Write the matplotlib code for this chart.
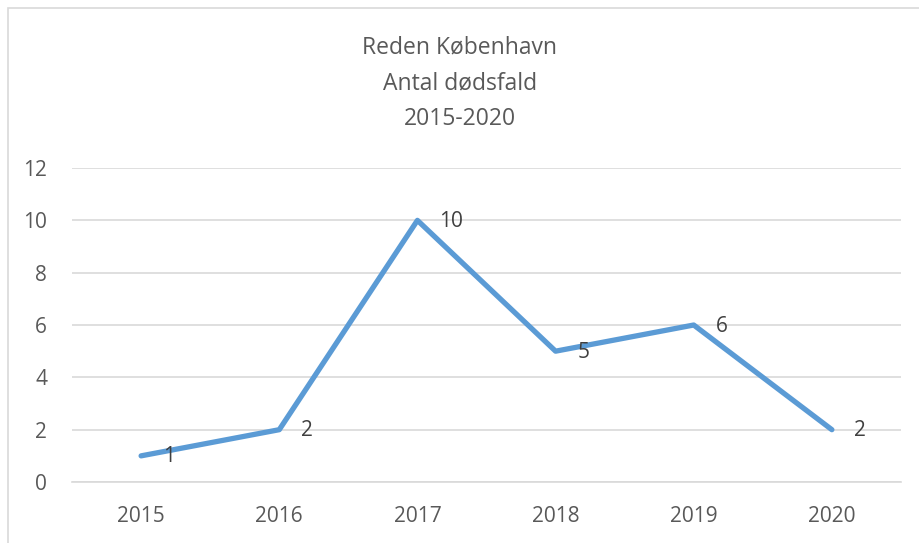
import matplotlib.pyplot as plt
from matplotlib.patches import Rectangle

years = ["2015", "2016", "2017", "2018", "2019", "2020"]
deaths = [1, 2, 10, 5, 6, 2]
title_lines = ["Reden København", "Antal dødsfald", "2015-2020"]

plt.rcParams['font.family'] = ['Open Sans', 'DejaVu Sans']

fig = plt.figure(figsize=(9.2, 5.43), dpi=100)
ax = fig.add_axes([0.0783, 0.1123, 0.9010, 0.5783])

x = list(range(len(years)))
ax.plot(x, deaths, color='#5b9bd5', linewidth=3.8, solid_capstyle='round',
        solid_joinstyle='round', zorder=3)

for xi, v in zip(x, deaths):
    ax.annotate(str(v), (xi, v), xytext=(22, -1), textcoords='offset pixels',
                ha='left', va='center', fontsize=15, color='#404040', zorder=4)

ax.set_xlim(-0.5, len(years) - 0.5)
ax.set_ylim(0, 12)
ax.set_yticks(range(0, 13, 2))
ax.set_xticks(x)
ax.set_xticklabels(years)
ax.tick_params(length=0, labelsize=15, labelcolor='#595959')
ax.tick_params(axis='x', pad=17)
ax.tick_params(axis='y', pad=18)
ax.grid(axis='y', color='#d9d9d9', linewidth=1.2)
ax.set_axisbelow(True)
for side in ['top', 'right', 'left']:
    ax.spines[side].set_visible(False)
ax.spines['bottom'].set_color('#d9d9d9')
ax.spines['bottom'].set_linewidth(1.2)

for i, line in enumerate(title_lines):
    fig.text(0.5, 1 - (47 + 36 * i) / 543, line, ha='center', va='center',
             fontsize=16.5, color='#595959')

# chart border
fig.patches.append(Rectangle((8 / 920, -0.01), 1.0, 1 - 8 / 543 + 0.01,
                             transform=fig.transFigure, fill=False,
                             edgecolor='#d9d9d9', linewidth=1.2))

plt.savefig("out.png", dpi=100)
